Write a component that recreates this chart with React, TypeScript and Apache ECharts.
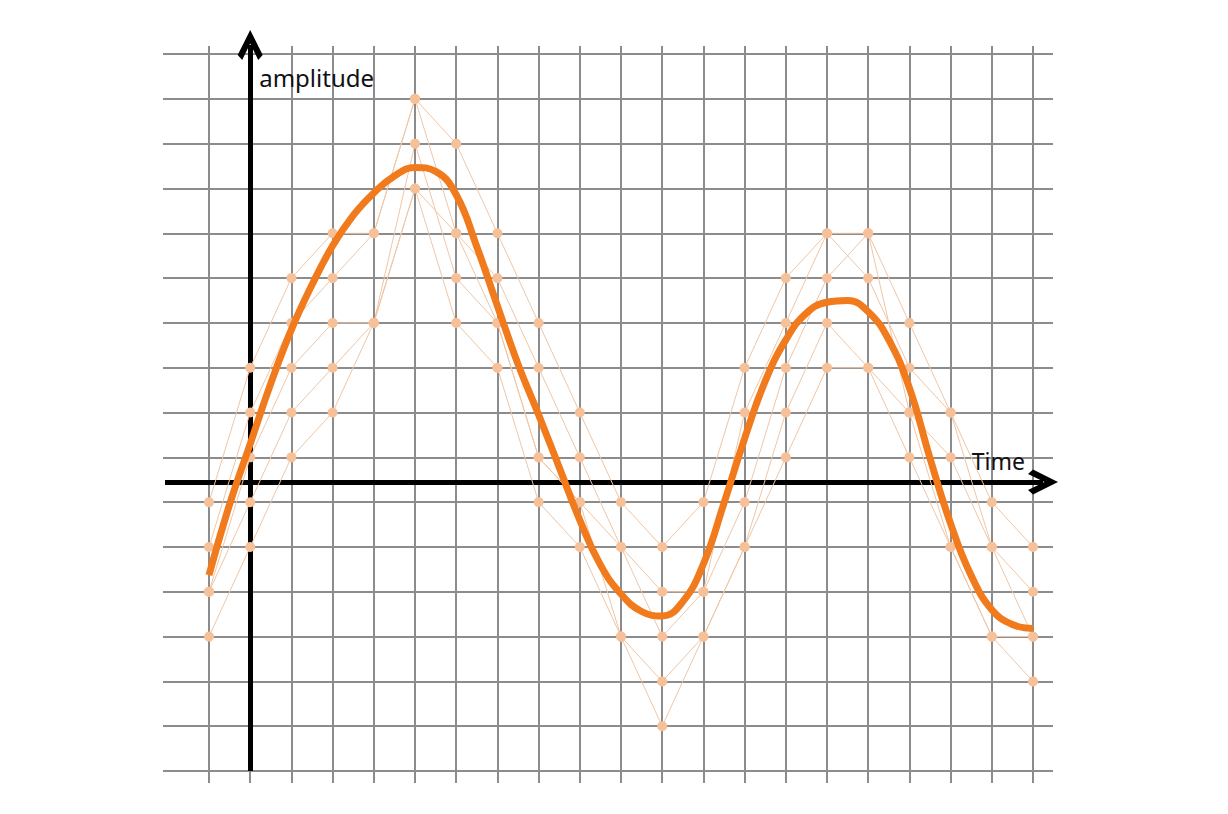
import React, { useEffect, useRef } from "react";
import * as echarts from "echarts";

// ---- data ----
const timeSteps = [0, 1, 2, 3, 4, 5, 6, 7, 8, 9, 10, 11, 12, 13, 14, 15, 16, 17, 18, 19, 20];
// smooth signal read at half steps
const signalTimes = [0, 0.5, 1, 1.5, 2, 2.5, 3, 3.5, 4, 4.5, 5, 5.5, 6, 6.5, 7, 7.5, 8, 8.5, 9, 9.5, 10, 10.5, 11, 11.5, 12, 12.5, 13, 13.5, 14, 14.5, 15, 15.5, 16, 16.5, 17, 17.5, 18, 18.5, 19, 19.5, 20];
const smoothSignal = [4.37, 5.95, 7.3, 8.65, 9.85, 10.85, 11.72, 12.4, 12.9, 13.28, 13.47, 13.38, 12.86, 11.7, 10.38, 9.08, 7.95, 6.78, 5.6, 4.6, 3.95, 3.56, 3.46, 3.78, 4.62, 5.98, 7.42, 8.7, 9.62, 10.22, 10.46, 10.5, 10.25, 9.62, 8.55, 6.98, 5.52, 4.36, 3.6, 3.27, 3.18];
const sampleA = [6, 9, 11, 12, 12, 15, 14, 12, 10, 8, 6, 5, 6, 9, 11, 12, 12, 10, 8, 6, 5];
const sampleB = [5, 8, 10, 11, 12, 15, 12, 11, 9, 7, 5, 4, 4, 8, 10, 12, 11, 9, 8, 5, 4];
const sampleC = [4, 7, 9, 10, 10, 14, 11, 10, 7, 6, 5, 3, 4, 6, 9, 11, 12, 8, 7, 5, 3];
const sampleD = [4, 6, 8, 9, 10, 13, 10, 9, 6, 5, 3, 2, 3, 5, 8, 10, 9, 7, 5, 3, 2];
const sampleE = [3, 5, 7, 8, 10, 13, 12, 10, 7, 6, 3, 1, 3, 5, 7, 9, 9, 8, 5, 3, 3];
const samples = [sampleA, sampleB, sampleC, sampleD, sampleE];
const gridRows = 16; // horizontal grid levels 0..16
const zeroLevel = 6.45; // amplitude axis crossing level
const zeroColumn = 1; // time axis crossing column
const axisNames = { x: "Time", y: "amplitude" };

// ---- layout (pixels) ----
const X0 = 209; // px of time step 0
const DX = 41.2; // px per time step
const Y0 = 771; // px of level 0
const DY = 44.81; // px per level
const H_LEFT = 163;
const H_RIGHT = 1053;
const V_TOP = 46;
const V_BOTTOM = 783;
const AX_LEFT = 165;
const AX_RIGHT = 1043;
const AX_TOP = 45;

const chevron = "path://M12.5,0 L25,25 L20.5,30 L12.5,13.5 L4.5,30 L0,25 Z";
const gridColor = "#8c8c8c";

export default function App() {
  const ref = useRef<HTMLDivElement>(null);
  useEffect(() => {
    if (!ref.current) return;
    const chart = echarts.init(ref.current, undefined, { renderer: "svg" });
    const lastStep = timeSteps[timeSteps.length - 1];
    const hidden = { show: false };
    const option: any = {
      animation: false,
      backgroundColor: "#ffffff",
      grid: [
        { left: H_LEFT, top: Y0 - gridRows * DY, width: H_RIGHT - H_LEFT, height: gridRows * DY },
        { left: X0, top: V_TOP, width: lastStep * DX, height: V_BOTTOM - V_TOP },
        { left: AX_LEFT, top: AX_TOP, width: AX_RIGHT - AX_LEFT, height: Y0 - AX_TOP },
      ],
      xAxis: [
        {
          gridIndex: 0, type: "value",
          min: (H_LEFT - X0) / DX, max: (H_RIGHT - X0) / DX,
          axisLine: hidden, axisTick: hidden, axisLabel: hidden, splitLine: hidden,
        },
        {
          gridIndex: 1, type: "value", min: 0, max: lastStep, interval: 1,
          axisLine: hidden, axisTick: hidden, axisLabel: hidden,
          splitLine: { show: true, lineStyle: { color: gridColor, width: 2 } },
        },
        {
          gridIndex: 2, type: "value", z: 1,
          min: (AX_LEFT - X0) / DX - zeroColumn, max: (AX_RIGHT - X0) / DX - zeroColumn,
          axisLine: {
            show: true, onZero: true, symbol: ["none", chevron], symbolSize: [25, 30],
            lineStyle: { color: "#000", width: 5, cap: "butt" },
          },
          axisTick: hidden, axisLabel: hidden, splitLine: hidden,
          name: axisNames.x, nameLocation: "end", nameGap: -18,
          nameTextStyle: {
            fontFamily: "Noto Sans", fontSize: 23, color: "#111",
            align: "right", verticalAlign: "bottom", padding: [0, 0, 9, 0],
          },
        },
      ],
      yAxis: [
        {
          gridIndex: 0, type: "value", min: 0, max: gridRows, interval: 1,
          axisLine: hidden, axisTick: hidden, axisLabel: hidden,
          splitLine: { show: true, lineStyle: { color: gridColor, width: 2 } },
        },
        { gridIndex: 1, type: "value", min: 0, max: 1, show: false },
        {
          gridIndex: 2, type: "value", z: 1,
          min: -zeroLevel, max: (Y0 - AX_TOP) / DY - zeroLevel,
          axisLine: {
            show: true, onZero: true, symbol: ["none", chevron], symbolSize: [25, 30],
            lineStyle: { color: "#000", width: 5, cap: "butt" },
          },
          axisTick: hidden, axisLabel: hidden, splitLine: hidden,
          name: axisNames.y, nameLocation: "end", nameGap: -20,
          nameTextStyle: {
            fontFamily: "Noto Sans", fontSize: 24, color: "#111",
            align: "left", verticalAlign: "top", padding: [0, 0, 0, 9],
          },
        },
      ],
      series: [
        ...samples.map((s) => ({
          type: "line",
          xAxisIndex: 0, yAxisIndex: 0,
          data: timeSteps.map((t, k) => [t, s[k]]),
          symbol: "circle", symbolSize: 10, showSymbol: true,
          lineStyle: { color: "#efc6a6", width: 1 },
          itemStyle: { color: "#f6c199" },
          z: 3, silent: true,
        })),
        {
          type: "line",
          xAxisIndex: 0, yAxisIndex: 0,
          data: signalTimes.map((t, k) => [t, smoothSignal[k]]),
          smooth: 0.45, symbol: "none",
          lineStyle: { color: "#f07a1c", width: 7 },
          z: 5, silent: true,
        },
      ],
    };
    chart.setOption(option);
    return () => chart.dispose();
  }, []);
  return <div ref={ref} style={{ position: "fixed", left: 0, top: 0, width: 1228, height: 814 }} />;
}
